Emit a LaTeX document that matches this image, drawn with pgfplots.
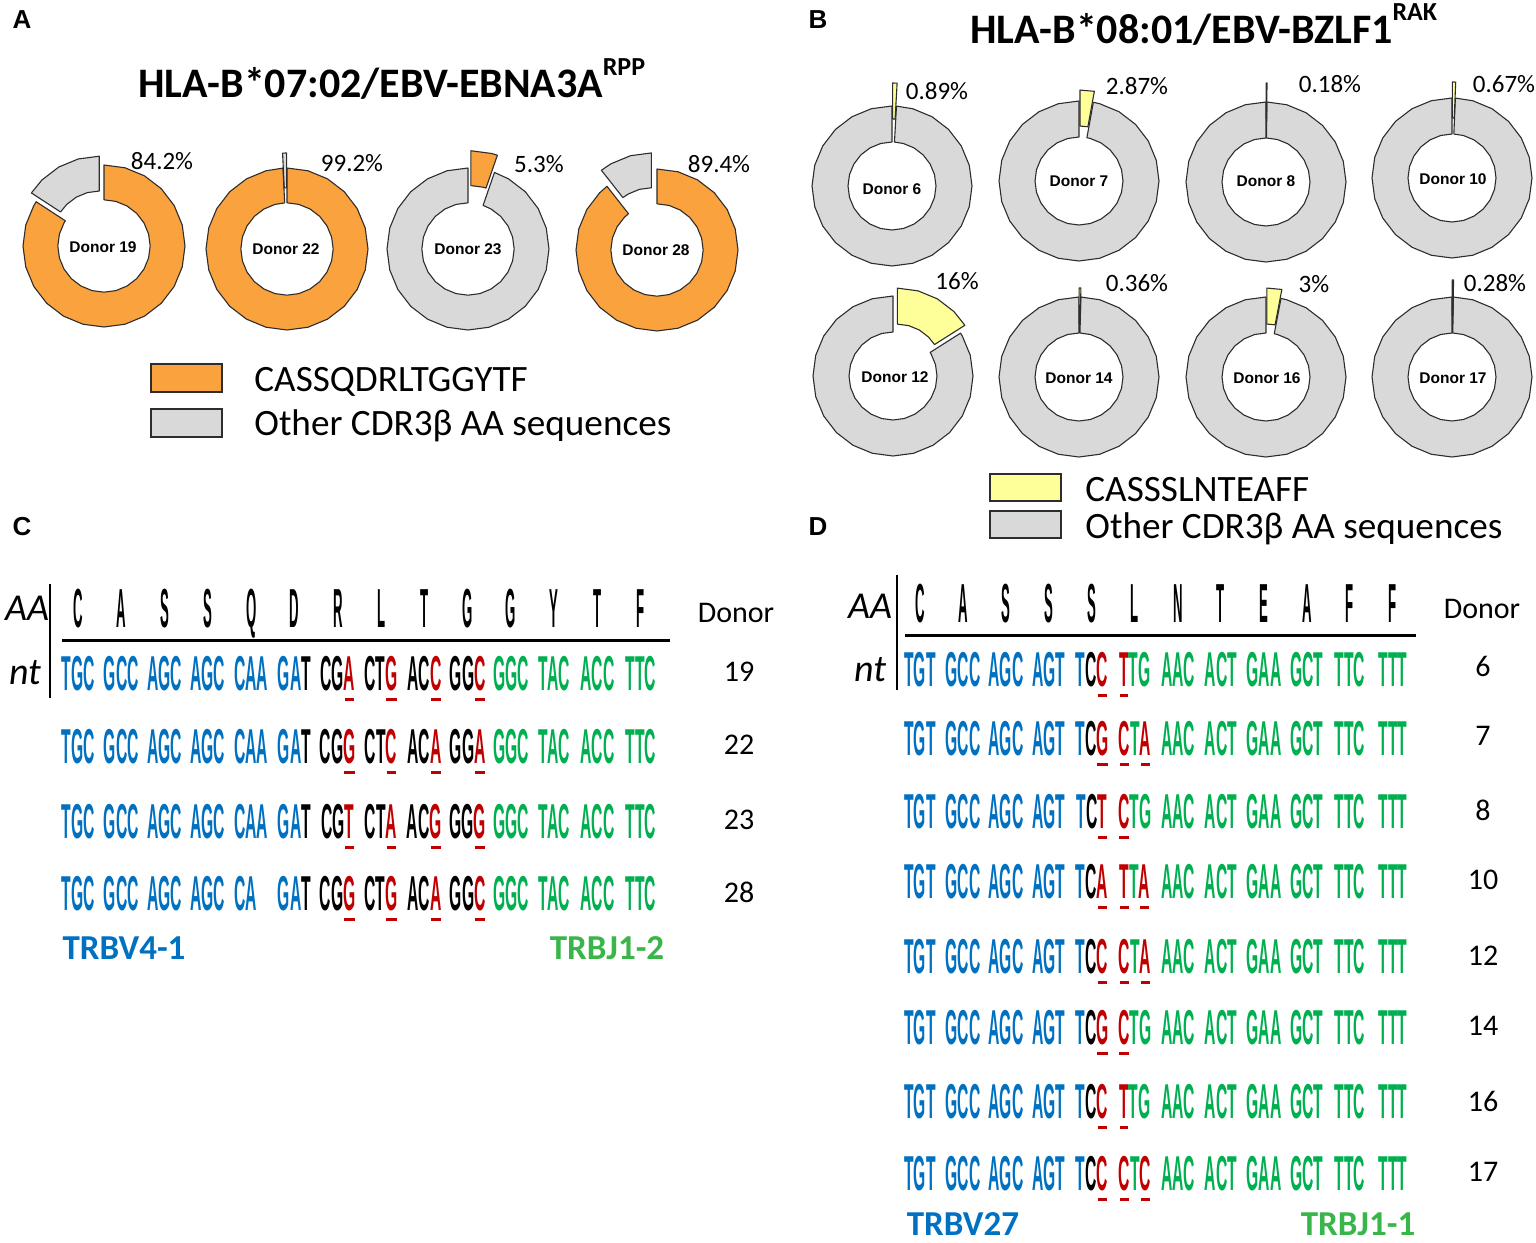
\documentclass[border=0pt]{standalone}
\usepackage{pgfplots}
\pgfplotsset{compat=1.18}
\usepackage{graphicx}
\usepackage{fontspec}
\setmainfont{Carlito}
\newfontfamily\arialf{Liberation Sans}

\definecolor{corange}{RGB}{250,162,62}
\definecolor{cgray}{RGB}{217,217,217}
\definecolor{cyellow}{RGB}{255,255,153}
\definecolor{cedge}{RGB}{45,45,45}
\definecolor{cb}{RGB}{0,112,192}
\definecolor{cg}{RGB}{0,176,80}
\definecolor{cr}{RGB}{192,0,0}
\definecolor{clabg}{RGB}{57,181,74}

\newcommand\fs[1]{\fontsize{#1}{#1}\selectfont}
\newcommand\B[1]{\textcolor{cb}{#1}}
\newcommand\G[1]{\textcolor{cg}{#1}}
\newcommand\rd[1]{\textcolor{cr}{\setbox0=\hbox{#1}\rlap{\hbox to \wd0{\hss\rule[-0.22em]{0.85\wd0}{0.065em}\hss}}\box0}}
\newcommand\cod[1]{\scalebox{0.32}[1]{\arialf\bfseries\fs{24.5pt}#1}}
\newcommand\amino[1]{\scalebox{0.24}[1]{\arialf\bfseries\fs{27.5pt}#1}}

\newcommand\crow[6]{%
  \foreach \cdn [count=\i] in {{\B{TGC}},{\B{GCC}},{\B{AGC}},{\B{AGC}},{#2},{\B{GA}T},{CG\rd{#3}},{CT\rd{#4}},{AC\rd{#5}},{GG\rd{#6}},{\G{GGC}},{\G{TAC}},{\G{ACC}},{\G{TTC}}}
    {\node[anchor=base,inner sep=0pt] at ({78+43.3*(\i-1)},#1) {\cod{\cdn}};}}
\newcommand\drow[3]{%
  \foreach \cdn [count=\i] in {{\B{TGT}},{\B{GCC}},{\B{AGC}},{\B{AGT}},{\B{T}C\rd{#2}},{#3},{\G{AAC}},{\G{ACT}},{\G{GAA}},{\G{GCT}},{\G{TTC}},{\G{TTT}}}
    {\node[anchor=base,inner sep=0pt] at ({920+43*(\i-1)},#1) {\cod{\cdn}};}}

\pgfplotsset{
  donut/.style={hide axis, clip=false, anchor=center, xmin=-1, xmax=1, ymin=-1, ymax=1, data cs=polar},
  donA/.style={donut, x=40.5pt, y=40.5pt},
  donB/.style={donut, x=40pt, y=40pt},
  sl/.style={draw=cedge, line width=0.55pt, line join=round},
}

\begin{document}
\begin{tikzpicture}[x=0.5pt,y=-0.5pt]
\useasboundingbox (0,0) rectangle (1536,1242);

% ---------------- panel A donuts ----------------
% Donor 19: 84.2 %
\begin{axis}[donA, at={(52pt,-123pt)}]
\addplot[sl, fill=corange] coordinates {
 (90,1) (75,1) (60,1) (45,1) (30,1) (15,1) (0,1) (-15,1) (-30,1) (-45,1) (-60,1) (-75,1) (-90,1) (-105,1) (-120,1) (-135,1) (-150,1) (-165,1) (-180,1) (-195,1) (-210,1) (-213.12,1)
 (-213.12,.57) (-210,.57) (-195,.57) (-180,.57) (-165,.57) (-150,.57) (-135,.57) (-120,.57) (-105,.57) (-90,.57) (-75,.57) (-60,.57) (-45,.57) (-30,.57) (-15,.57) (0,.57) (15,.57) (30,.57) (45,.57) (60,.57) (75,.57) (90,.57)} -- cycle;
\addplot[sl, fill=cgray, xshift=-2.38pt, yshift=4.40pt] coordinates {
 (-213.12,1) (-225,1) (-240,1) (-255,1) (-270,1) (-270,.57) (-255,.57) (-240,.57) (-225,.57) (-213.12,.57)} -- cycle;
\end{axis}
% Donor 22: 99.2 %
\begin{axis}[donA, at={(143.5pt,-124.5pt)}]
\addplot[sl, fill=corange] coordinates {
 (90,1) (75,1) (60,1) (45,1) (30,1) (15,1) (0,1) (-15,1) (-30,1) (-45,1) (-60,1) (-75,1) (-90,1) (-105,1) (-120,1) (-135,1) (-150,1) (-165,1) (-180,1) (-195,1) (-210,1) (-225,1) (-240,1) (-255,1) (-267.12,1)
 (-267.12,.57) (-255,.57) (-240,.57) (-225,.57) (-210,.57) (-195,.57) (-180,.57) (-165,.57) (-150,.57) (-135,.57) (-120,.57) (-105,.57) (-90,.57) (-75,.57) (-60,.57) (-45,.57) (-30,.57) (-15,.57) (0,.57) (15,.57) (30,.57) (45,.57) (60,.57) (75,.57) (90,.57)} -- cycle;
\addplot[sl, fill=cgray, xshift=-0.19pt, yshift=7.5pt] coordinates {
 (-267.12,1) (-270,1) (-270,.57) (-267.12,.57)} -- cycle;
\end{axis}
% Donor 23: 5.3 %
\begin{axis}[donA, at={(234pt,-124.5pt)}]
\addplot[sl, fill=cgray] coordinates {
 (70.92,1) (60,1) (45,1) (30,1) (15,1) (0,1) (-15,1) (-30,1) (-45,1) (-60,1) (-75,1) (-90,1) (-105,1) (-120,1) (-135,1) (-150,1) (-165,1) (-180,1) (-195,1) (-210,1) (-225,1) (-240,1) (-255,1) (-270,1)
 (-270,.57) (-255,.57) (-240,.57) (-225,.57) (-210,.57) (-195,.57) (-180,.57) (-165,.57) (-150,.57) (-135,.57) (-120,.57) (-105,.57) (-90,.57) (-75,.57) (-60,.57) (-45,.57) (-30,.57) (-15,.57) (0,.57) (15,.57) (30,.57) (45,.57) (60,.57) (70.92,.57)} -- cycle;
\addplot[sl, fill=corange, xshift=1.45pt, yshift=8.63pt] coordinates {
 (90,1) (75,1) (70.92,1) (70.92,.57) (75,.57) (90,.57)} -- cycle;
\end{axis}
% Donor 28: 89.4 %
\begin{axis}[donA, at={(328.5pt,-125pt)}]
\addplot[sl, fill=corange] coordinates {
 (90,1) (75,1) (60,1) (45,1) (30,1) (15,1) (0,1) (-15,1) (-30,1) (-45,1) (-60,1) (-75,1) (-90,1) (-105,1) (-120,1) (-135,1) (-150,1) (-165,1) (-180,1) (-195,1) (-210,1) (-225,1) (-231.84,1)
 (-231.84,.57) (-225,.57) (-210,.57) (-195,.57) (-180,.57) (-165,.57) (-150,.57) (-135,.57) (-120,.57) (-105,.57) (-90,.57) (-75,.57) (-60,.57) (-45,.57) (-30,.57) (-15,.57) (0,.57) (15,.57) (30,.57) (45,.57) (60,.57) (75,.57) (90,.57)} -- cycle;
\addplot[sl, fill=cgray, xshift=-2.78pt, yshift=8.03pt] coordinates {
 (-231.84,1) (-240,1) (-255,1) (-270,1) (-270,.57) (-255,.57) (-240,.57) (-231.84,.57)} -- cycle;
\end{axis}

% ---------------- panel B donuts ----------------
% Donor 6: 0.89 %
\begin{axis}[donB, at={(446pt,-93pt)}]
\addplot[sl, fill=cgray] coordinates {
 (86.8,1) (75,1) (60,1) (45,1) (30,1) (15,1) (0,1) (-15,1) (-30,1) (-45,1) (-60,1) (-75,1) (-90,1) (-105,1) (-120,1) (-135,1) (-150,1) (-165,1) (-180,1) (-195,1) (-210,1) (-225,1) (-240,1) (-255,1) (-270,1)
 (-270,.55) (-255,.55) (-240,.55) (-225,.55) (-210,.55) (-195,.55) (-180,.55) (-165,.55) (-150,.55) (-135,.55) (-120,.55) (-105,.55) (-90,.55) (-75,.55) (-60,.55) (-45,.55) (-30,.55) (-15,.55) (0,.55) (15,.55) (30,.55) (45,.55) (60,.55) (75,.55) (86.8,.55)} -- cycle;
\addplot[sl, fill=cyellow, xshift=0.32pt, yshift=11.5pt] coordinates {
 (90,1) (86.8,1) (86.8,.55) (90,.55)} -- cycle;
\end{axis}
% Donor 7: 2.87 %
\begin{axis}[donB, at={(539.5pt,-90.5pt)}]
\addplot[sl, fill=cgray] coordinates {
 (79.67,1) (75,1) (60,1) (45,1) (30,1) (15,1) (0,1) (-15,1) (-30,1) (-45,1) (-60,1) (-75,1) (-90,1) (-105,1) (-120,1) (-135,1) (-150,1) (-165,1) (-180,1) (-195,1) (-210,1) (-225,1) (-240,1) (-255,1) (-270,1)
 (-270,.55) (-255,.55) (-240,.55) (-225,.55) (-210,.55) (-195,.55) (-180,.55) (-165,.55) (-150,.55) (-135,.55) (-120,.55) (-105,.55) (-90,.55) (-75,.55) (-60,.55) (-45,.55) (-30,.55) (-15,.55) (0,.55) (15,.55) (30,.55) (45,.55) (60,.55) (75,.55) (79.67,.55)} -- cycle;
\addplot[sl, fill=cyellow, xshift=0.50pt, yshift=5.48pt] coordinates {
 (90,1) (79.67,1) (79.67,.55) (90,.55)} -- cycle;
\end{axis}
% Donor 8: 0.18 %
\begin{axis}[donB, at={(633pt,-91pt)}]
\addplot[sl, fill=cgray] coordinates {
 (89.35,1) (75,1) (60,1) (45,1) (30,1) (15,1) (0,1) (-15,1) (-30,1) (-45,1) (-60,1) (-75,1) (-90,1) (-105,1) (-120,1) (-135,1) (-150,1) (-165,1) (-180,1) (-195,1) (-210,1) (-225,1) (-240,1) (-255,1) (-270,1)
 (-270,.55) (-255,.55) (-240,.55) (-225,.55) (-210,.55) (-195,.55) (-180,.55) (-165,.55) (-150,.55) (-135,.55) (-120,.55) (-105,.55) (-90,.55) (-75,.55) (-60,.55) (-45,.55) (-30,.55) (-15,.55) (0,.55) (15,.55) (30,.55) (45,.55) (60,.55) (75,.55) (89.35,.55)} -- cycle;
\addplot[sl, fill=cyellow, xshift=0.05pt, yshift=9.5pt] coordinates {
 (90,1) (89.35,1) (89.35,.55) (90,.55)} -- cycle;
\end{axis}
% Donor 10: 0.67 %
\begin{axis}[donB, at={(726pt,-89pt)}]
\addplot[sl, fill=cgray] coordinates {
 (87.59,1) (75,1) (60,1) (45,1) (30,1) (15,1) (0,1) (-15,1) (-30,1) (-45,1) (-60,1) (-75,1) (-90,1) (-105,1) (-120,1) (-135,1) (-150,1) (-165,1) (-180,1) (-195,1) (-210,1) (-225,1) (-240,1) (-255,1) (-270,1)
 (-270,.55) (-255,.55) (-240,.55) (-225,.55) (-210,.55) (-195,.55) (-180,.55) (-165,.55) (-150,.55) (-135,.55) (-120,.55) (-105,.55) (-90,.55) (-75,.55) (-60,.55) (-45,.55) (-30,.55) (-15,.55) (0,.55) (15,.55) (30,.55) (45,.55) (60,.55) (75,.55) (87.59,.55)} -- cycle;
\addplot[sl, fill=cyellow, xshift=0.17pt, yshift=8pt] coordinates {
 (90,1) (87.59,1) (87.59,.55) (90,.55)} -- cycle;
\end{axis}
% Donor 12: 16 %
\begin{axis}[donB, at={(446.5pt,-188pt)}]
\addplot[sl, fill=cgray] coordinates {
 (32.4,1) (30,1) (15,1) (0,1) (-15,1) (-30,1) (-45,1) (-60,1) (-75,1) (-90,1) (-105,1) (-120,1) (-135,1) (-150,1) (-165,1) (-180,1) (-195,1) (-210,1) (-225,1) (-240,1) (-255,1) (-270,1)
 (-270,.55) (-255,.55) (-240,.55) (-225,.55) (-210,.55) (-195,.55) (-180,.55) (-165,.55) (-150,.55) (-135,.55) (-120,.55) (-105,.55) (-90,.55) (-75,.55) (-60,.55) (-45,.55) (-30,.55) (-15,.55) (0,.55) (15,.55) (30,.55) (32.4,.55)} -- cycle;
\addplot[sl, fill=cyellow, xshift=2.17pt, yshift=3.94pt] coordinates {
 (90,1) (75,1) (60,1) (45,1) (32.4,1) (32.4,.55) (45,.55) (60,.55) (75,.55) (90,.55)} -- cycle;
\end{axis}
% Donor 14: 0.36 %
\begin{axis}[donB, at={(539.5pt,-188.5pt)}]
\addplot[sl, fill=cgray] coordinates {
 (88.70,1) (75,1) (60,1) (45,1) (30,1) (15,1) (0,1) (-15,1) (-30,1) (-45,1) (-60,1) (-75,1) (-90,1) (-105,1) (-120,1) (-135,1) (-150,1) (-165,1) (-180,1) (-195,1) (-210,1) (-225,1) (-240,1) (-255,1) (-270,1)
 (-270,.55) (-255,.55) (-240,.55) (-225,.55) (-210,.55) (-195,.55) (-180,.55) (-165,.55) (-150,.55) (-135,.55) (-120,.55) (-105,.55) (-90,.55) (-75,.55) (-60,.55) (-45,.55) (-30,.55) (-15,.55) (0,.55) (15,.55) (30,.55) (45,.55) (60,.55) (75,.55) (88.70,.55)} -- cycle;
\addplot[sl, fill=cyellow, xshift=0.05pt, yshift=4.5pt] coordinates {
 (90,1) (88.70,1) (88.70,.55) (90,.55)} -- cycle;
\end{axis}
% Donor 16: 3 %
\begin{axis}[donB, at={(633pt,-188.5pt)}]
\addplot[sl, fill=cgray] coordinates {
 (79.2,1) (75,1) (60,1) (45,1) (30,1) (15,1) (0,1) (-15,1) (-30,1) (-45,1) (-60,1) (-75,1) (-90,1) (-105,1) (-120,1) (-135,1) (-150,1) (-165,1) (-180,1) (-195,1) (-210,1) (-225,1) (-240,1) (-255,1) (-270,1)
 (-270,.55) (-255,.55) (-240,.55) (-225,.55) (-210,.55) (-195,.55) (-180,.55) (-165,.55) (-150,.55) (-135,.55) (-120,.55) (-105,.55) (-90,.55) (-75,.55) (-60,.55) (-45,.55) (-30,.55) (-15,.55) (0,.55) (15,.55) (30,.55) (45,.55) (60,.55) (75,.55) (79.2,.55)} -- cycle;
\addplot[sl, fill=cyellow, xshift=0.42pt, yshift=4.48pt] coordinates {
 (90,1) (79.2,1) (79.2,.55) (90,.55)} -- cycle;
\end{axis}
% Donor 17: 0.28 %
\begin{axis}[donB, at={(726pt,-188.5pt)}]
\addplot[sl, fill=cgray] coordinates {
 (88.99,1) (75,1) (60,1) (45,1) (30,1) (15,1) (0,1) (-15,1) (-30,1) (-45,1) (-60,1) (-75,1) (-90,1) (-105,1) (-120,1) (-135,1) (-150,1) (-165,1) (-180,1) (-195,1) (-210,1) (-225,1) (-240,1) (-255,1) (-270,1)
 (-270,.55) (-255,.55) (-240,.55) (-225,.55) (-210,.55) (-195,.55) (-180,.55) (-165,.55) (-150,.55) (-135,.55) (-120,.55) (-105,.55) (-90,.55) (-75,.55) (-60,.55) (-45,.55) (-30,.55) (-15,.55) (0,.55) (15,.55) (30,.55) (45,.55) (60,.55) (75,.55) (88.99,.55)} -- cycle;
\addplot[sl, fill=cyellow, xshift=0.07pt, yshift=8.5pt] coordinates {
 (90,1) (88.99,1) (88.99,.55) (90,.55)} -- cycle;
\end{axis}

% ---------------- labels of panels A and B ----------------
\foreach \l/\x/\y in {A/22/20, B/818/20, C/22/527, D/818/527}
  \node at (\x,\y) {\arialf\bfseries\fs{13pt}\l};
\node[anchor=base west, inner sep=0pt] at (138,97) {\bfseries\fs{21pt}HLA-B*07:02/EBV-EBNA3A\raisebox{11pt}{\fs{13pt}RPP}};
\node[anchor=base west, inner sep=0pt] at (970,43) {\bfseries\fs{21pt}HLA-B*08:01/EBV-BZLF1\raisebox{11.5pt}{\fs{13pt}RAK}};

\foreach \t/\x/\y in {19/103/247, 22/286/249, 23/468/249, 28/656/250, 6/892/189, 7/1079/181, 8/1266/181, 10/1453/179, 12/895/377, 14/1079/378, 16/1267/378, 17/1453/378}
  \node at (\x,\y) {\arialf\bfseries\fs{7.75pt}Donor \t};
\foreach \t/\x/\y in {84.2/162/161, 99.2/352/163, 5.3/539/164, 89.4/719/164, 0.89/937/91, 2.87/1137/86, 0.18/1330/84, 0.67/1504/84, 16/957/281, 0.36/1137/283, 3/1314/284, 0.28/1495/283}
  \node at (\x,\y) {\fs{12.5pt}\t\%};

% legends
\draw[draw=cedge, line width=0.6pt, fill=corange] (151,364) rectangle (222,392);
\draw[draw=cedge, line width=0.6pt, fill=cgray] (151,409) rectangle (222,437);
\node[anchor=base west, inner sep=0pt] at (254,391.5) {\fs{18.6pt}CASSQDRLTGGYTF};
\node[anchor=base west, inner sep=0pt] at (254,435) {\fs{18.6pt}Other CDR3β AA sequences};
\draw[draw=cedge, line width=0.6pt, fill=cyellow] (990,474) rectangle (1061,501);
\draw[draw=cedge, line width=0.6pt, fill=cgray] (990,511) rectangle (1061,538);
\node[anchor=base west, inner sep=0pt] at (1085,501.5) {\fs{18.6pt}CASSSLNTEAFF};
\node[anchor=base west, inner sep=0pt] at (1085,538) {\fs{18.6pt}Other CDR3β AA sequences};

% ---------------- panel C ----------------
\draw[line width=1pt] (50,584) -- (50,698);
\draw[line width=1.5pt] (62,640) -- (670,640);
\node at (27,608) {\itshape\fs{19pt}AA};
\node at (25,673) {\itshape\fs{19pt}nt};
\foreach \am [count=\i] in {C,A,S,S,Q,D,R,L,T,G,G,Y,T,F}
  \node[anchor=base, inner sep=0pt] at ({78+43.3*(\i-1)},627) {\amino{\am}};
\node at (736,613) {\fs{15pt}Donor};
\crow{690}{\B{CAA}}{A}{G}{C}{C}
\crow{763}{\B{CAA}}{G}{C}{A}{A}
\crow{838}{\B{CAA}}{T}{A}{G}{G}
\crow{910}{\B{CA}\phantom{A}}{G}{G}{A}{C}
\foreach \t/\y in {19/672, 22/745, 23/820, 28/892}
  \node at (739,\y) {\fs{15pt}\t};
\node at (124,948) {\bfseries\fs{17.5pt}\textcolor{cb}{TRBV4-1}};
\node at (607,948) {\bfseries\fs{17.5pt}\textcolor{clabg}{TRBJ1-2}};

% ---------------- panel D ----------------
\draw[line width=1pt] (897,575) -- (897,690);
\draw[line width=1.5pt] (905,635) -- (1416,635);
\node at (870,606) {\itshape\fs{19pt}AA};
\node at (870,670) {\itshape\fs{19pt}nt};
\foreach \am [count=\i] in {C,A,S,S,S,L,N,T,E,A,F,F}
  \node[anchor=base, inner sep=0pt] at ({920+43*(\i-1)},622) {\amino{\am}};
\node at (1482,609) {\fs{15pt}Donor};
\drow{686}{C}{\rd{T}\G{TG}}
\drow{755}{G}{\rd{C}\G{T}\rd{A}}
\drow{828}{T}{\rd{C}\G{TG}}
\drow{898}{A}{\rd{T}\G{T}\rd{A}}
\drow{973}{C}{\rd{C}\G{T}\rd{A}}
\drow{1044}{G}{\rd{C}\G{TG}}
\drow{1118}{C}{\rd{T}\G{TG}}
\drow{1190}{C}{\rd{C}\G{T}\rd{C}}
\foreach \t/\y in {6/666, 7/736, 8/810, 10/880, 12/956, 14/1026, 16/1101, 17/1172}
  \node at (1483,\y) {\fs{15pt}\t};
\node[inner sep=0pt] at (963,1224) {\bfseries\fs{17.5pt}\textcolor{cb}{TRBV27}};
\node[inner sep=0pt] at (1358,1224) {\bfseries\fs{17.5pt}\textcolor{clabg}{TRBJ1-1}};
\end{tikzpicture}
\end{document}
